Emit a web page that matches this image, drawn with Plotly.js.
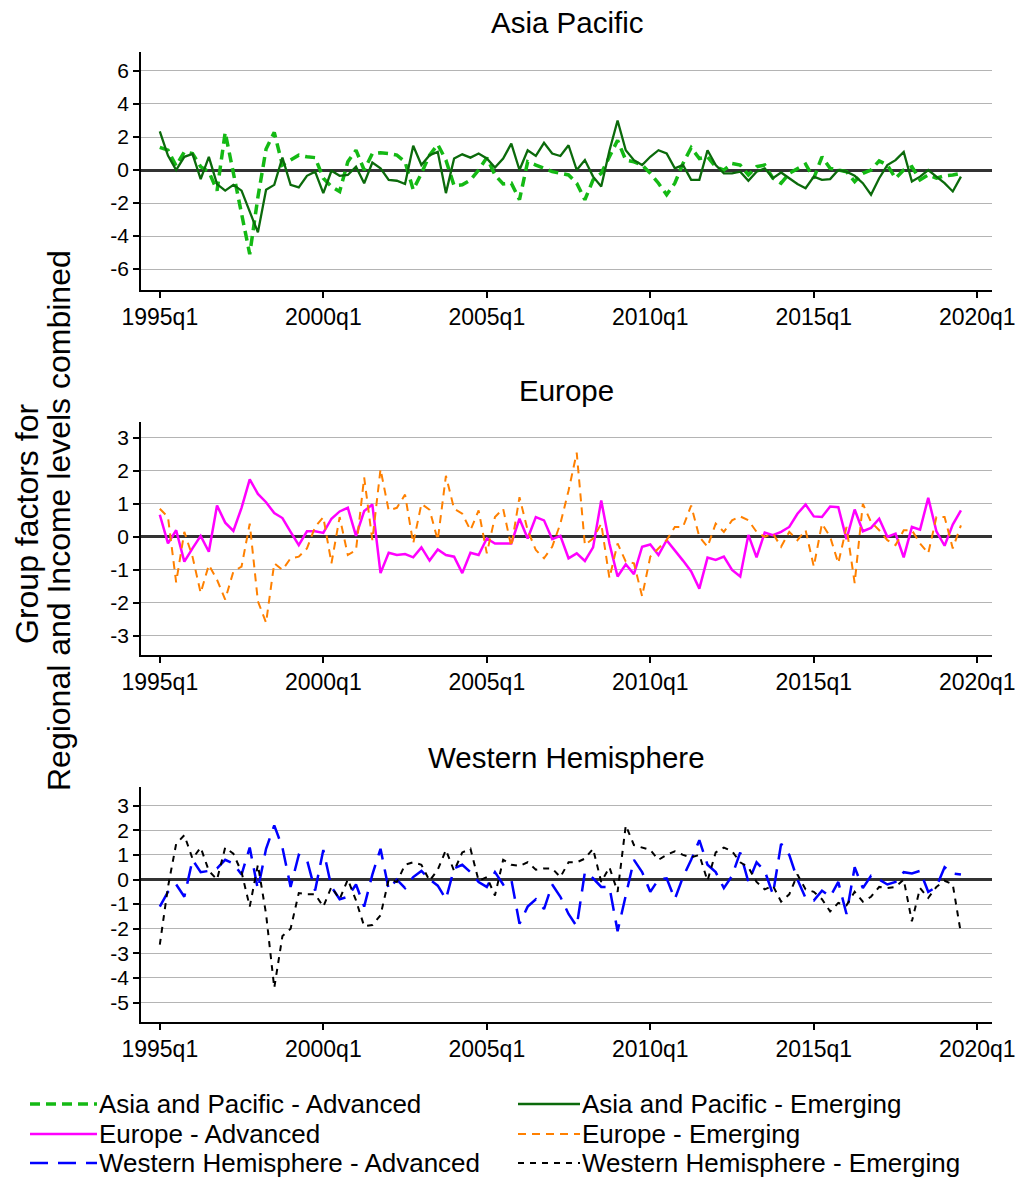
<!DOCTYPE html>
<html>
<head>
<meta charset="utf-8">
<script src="https://cdn.plot.ly/plotly-3.0.1.min.js"></script>
<style>html,body{margin:0;padding:0;background:#fff;}#chart{width:1019px;height:1180px;}</style>
</head>
<body>
<div id="chart"></div>
<script>
// Quarter labels 1995q1 .. 2019q3 (99 quarters)
const quarters = [];
for (let y = 1995; y <= 2019; y++) for (let q = 1; q <= 4; q++) if (quarters.length < 99) quarters.push(y + "q" + q);
const xTickLabels = ["1995q1", "2000q1", "2005q1", "2010q1", "2015q1", "2020q1"];
const xTickIdx = [0, 20, 40, 60, 80, 100];

const seriesNames = [
  "Asia and Pacific - Advanced", "Asia and Pacific - Emerging",
  "Europe - Advanced", "Europe - Emerging",
  "Western Hemisphere - Advanced", "Western Hemisphere - Emerging"
];
const panelTitles = ["Asia Pacific", "Europe", "Western Hemisphere"];

const apAdvanced = [1.37,1.2,0.25,1.1,1.0,0.2,-0.1,-1.25,2.28,-0.15,-2.6,-5.1,-1.65,1.27,2.28,0.3,0.6,0.9,0.8,0.75,
 -0.5,-1.0,-1.3,0.5,1.2,0.0,1.0,1.05,1.0,0.9,0.5,-1.2,-0.2,0.9,1.55,0.6,-0.95,-0.9,-0.6,0.0,
 0.75,-0.3,-0.85,-0.8,-1.8,0.5,0.3,0.1,-0.1,-0.2,-0.3,-0.8,-1.8,-0.6,-0.2,0.8,1.8,0.6,0.5,0.3,
 -0.2,-0.8,-1.5,-0.8,0.4,1.35,0.7,0.8,0.2,0.0,0.4,0.3,-0.3,0.2,0.3,-0.5,-0.8,-0.2,0.1,0.35,
 -0.5,0.8,0.1,0.0,-0.1,-0.7,-0.2,0.0,0.55,0.3,-0.5,0.0,0.2,-0.6,-0.3,-0.5,-0.35,-0.3,-0.2];
const apEmerging = [2.34,0.87,0.0,0.8,0.97,-0.55,0.8,-0.85,-1.25,-0.9,-1.25,-2.46,-3.78,-1.2,-0.9,0.75,-0.9,-1.05,-0.35,-0.1,
 -1.4,-0.05,-0.35,-0.3,0.2,-0.8,0.45,0.1,-0.6,-0.65,-0.85,1.47,0.3,0.9,1.1,-1.4,0.7,0.95,0.75,1.0,
 0.7,0.15,0.7,1.6,0.0,1.2,0.85,1.65,1.0,0.85,1.5,0.0,0.6,-0.4,-1.0,1.17,3.0,1.2,0.6,0.3,
 0.8,1.2,1.0,0.1,0.3,-0.6,-0.6,1.2,0.3,-0.2,-0.2,-0.1,-0.65,-0.1,0.1,-0.5,-0.15,-0.5,-0.85,-1.1,
 -0.4,-0.6,-0.55,0.0,-0.1,-0.35,-0.8,-1.5,-0.5,0.3,0.6,1.1,-0.7,-0.4,0.0,-0.4,-0.8,-1.3,-0.4];
const euAdvanced = [0.67,-0.2,0.2,-0.75,-0.35,0.03,-0.45,0.95,0.43,0.18,0.88,1.74,1.3,1.05,0.72,0.57,0.15,-0.25,0.17,0.17,
 0.12,0.55,0.77,0.88,0.03,0.78,0.98,-1.1,-0.48,-0.55,-0.52,-0.62,-0.32,-0.72,-0.38,-0.55,-0.6,-1.1,-0.48,-0.55,
 -0.05,-0.2,-0.2,-0.2,0.55,-0.05,0.6,0.5,-0.07,0.03,-0.65,-0.5,-0.73,-0.32,1.1,-0.2,-1.2,-0.83,-1.13,-0.3,
 -0.23,-0.55,-0.1,-0.4,-0.72,-1.05,-1.57,-0.63,-0.7,-0.6,-1.0,-1.2,0.06,-0.62,0.13,0.05,0.15,0.3,0.7,0.98,
 0.62,0.6,0.92,0.9,-0.07,0.83,0.17,0.27,0.55,0.0,0.1,-0.62,0.3,0.22,1.18,0.17,-0.27,0.37,0.8];
const euEmerging = [0.85,0.6,-1.38,0.15,-0.6,-1.7,-0.85,-1.3,-1.9,-1.05,-0.9,0.4,-1.95,-2.6,-0.8,-1.0,-0.65,-0.6,-0.35,0.3,
 0.6,-0.8,0.6,-0.55,-0.4,1.8,-0.1,2.05,0.8,0.88,1.28,-0.2,1.0,0.82,-0.1,1.85,0.85,0.7,0.2,0.8,
 -0.5,0.6,0.85,-0.3,1.2,0.2,-0.4,-0.65,-0.3,0.4,1.4,2.55,-0.25,-0.05,0.4,-1.25,-0.2,-0.75,-0.8,-1.8,
 -0.6,-0.35,-0.1,0.3,0.3,0.95,0.0,-0.3,0.4,0.15,0.5,0.62,0.5,0.15,0.0,0.1,-0.3,0.15,-0.1,0.2,
 -0.9,0.4,0.0,-0.8,0.3,-1.4,1.0,0.45,0.2,-0.1,-0.25,0.2,0.2,-0.2,-0.5,0.6,0.6,-0.35,0.35];
const whAdvanced = [-1.1,-0.5,-0.2,-0.7,0.8,0.3,0.35,0.45,0.8,0.65,0.2,1.3,-0.4,1.25,2.2,1.3,-0.3,1.0,0.8,-0.45,
 1.2,-0.3,-0.8,-0.7,-0.2,-1.1,0.2,1.25,-0.4,0.0,-0.35,0.1,0.35,0.0,-0.25,-0.8,0.45,0.6,0.3,-0.1,
 -0.3,0.3,-0.2,0.0,-1.8,-1.1,-0.8,-1.2,-0.2,-0.7,-1.4,-1.9,0.3,0.05,-0.3,-0.3,-2.1,-0.6,0.8,0.3,
 -0.5,0.0,0.05,-0.8,0.1,0.8,1.6,0.6,0.3,-0.35,0.15,1.1,-0.1,0.7,0.35,-0.6,1.45,1.0,0.0,-0.75,
 -0.85,-0.45,-0.7,-0.1,-1.4,0.5,-0.35,0.15,0.0,-0.2,-0.1,0.3,0.25,0.35,-0.5,-0.3,0.5,0.25,0.2];
const whEmerging = [-2.65,-0.3,1.45,1.8,0.85,1.3,0.35,0.0,1.3,1.05,0.3,-1.1,0.6,-1.4,-4.4,-2.3,-2.0,-0.55,-0.6,-0.6,
 -1.1,-0.3,-0.8,0.0,-0.85,-1.9,-1.85,-1.45,0.0,-0.1,0.6,0.7,0.6,-0.05,0.4,1.2,0.35,1.1,1.25,-0.05,
 0.1,-0.65,0.8,0.6,0.55,0.7,0.4,0.45,0.45,0.1,0.7,0.7,0.85,1.25,-0.1,0.5,-0.5,2.2,1.4,1.3,
 1.2,0.8,1.0,1.15,1.0,0.9,1.0,-0.05,1.1,1.3,1.15,0.7,0.5,-0.1,-0.4,-0.25,-0.9,-0.6,0.2,-0.4,
 -0.5,-0.8,-1.3,-0.95,-1.05,-0.5,-0.9,-0.7,-0.3,-0.35,-0.3,0.0,-1.7,-0.35,-0.75,-0.3,-0.05,-0.2,-2.2];

const seriesValues = [apAdvanced, apEmerging, euAdvanced, euEmerging, whAdvanced, whEmerging];

// ---- styles ----
const W = 1019, H = 1180, ML = 141, MR = 27;
const PW = W - ML - MR;
const FONT = "Liberation Sans, Arial, Helvetica, sans-serif";
const styles = [
  {color: "#14b914", width: 3.5, dash: "10px,6px"},
  {color: "#0b6a0b", width: 2.3, dash: "solid"},
  {color: "#ff00ff", width: 2.5, dash: "solid"},
  {color: "#ff8000", width: 2.0, dash: "8px,6px"},
  {color: "#0000ff", width: 2.5, dash: "18px,10px"},
  {color: "#000000", width: 2.0, dash: "6px,6px"}
];
const px2x = p => (p - ML) / PW;
const py2y = p => 1 - p / H;

const idx = quarters.map((q, i) => i);
const traces = seriesValues.map((vals, k) => ({
  type: "scatter", mode: "lines",
  x: idx, y: vals, text: quarters,
  name: seriesNames[k],
  xaxis: ["x", "x2", "x3"][Math.floor(k / 2)],
  yaxis: ["y", "y2", "y3"][Math.floor(k / 2)],
  line: styles[k], showlegend: false,
  hovertemplate: "%{text}: %{y}<extra>" + seriesNames[k] + "</extra>"
}));

// panel geometry in pixels (top, bottom) and y ranges / ticks
const panels = [
  {top: 52, bot: 290, range: [-7.27, 7.15], ticks: [-6, -4, -2, 0, 2, 4, 6], titleY: 22},
  {top: 422, bot: 655, range: [-3.58, 3.48], ticks: [-3, -2, -1, 0, 1, 2, 3], titleY: 390},
  {top: 787, bot: 1022, range: [-5.79, 3.76], ticks: [-5, -4, -3, -2, -1, 0, 1, 2, 3], titleY: 757}
];

const layout = {
  width: W, height: H,
  margin: {l: ML, r: MR, t: 0, b: 0},
  paper_bgcolor: "#ffffff", plot_bgcolor: "#ffffff",
  font: {family: FONT, color: "#000"},
  showlegend: false,
  annotations: [], shapes: []
};

panels.forEach((p, k) => {
  const sx = k === 0 ? "" : String(k + 1);
  layout["xaxis" + sx] = {
    domain: [0, 1], anchor: "y" + sx,
    range: [-2.3, 101.8], tickvals: xTickIdx, ticktext: xTickLabels,
    ticks: "outside", ticklen: 6, tickwidth: 1.5, tickcolor: "#000",
    showline: true, linecolor: "#000", linewidth: 1.5,
    showgrid: false, zeroline: false,
    tickfont: {size: 23, family: FONT, color: "#000"}
  };
  layout["yaxis" + sx] = {
    domain: [py2y(p.bot), py2y(p.top)], anchor: "x" + sx,
    range: p.range, tickvals: p.ticks, ticktext: p.ticks.map(v => String(v)),
    ticks: "outside", ticklen: 6, tickwidth: 1.5, tickcolor: "#000",
    showline: true, linecolor: "#000", linewidth: 1.5,
    showgrid: true, gridcolor: "#b4b4b4", gridwidth: 1,
    zeroline: true, zerolinecolor: "#333333", zerolinewidth: 2.5,
    tickfont: {size: 21, family: FONT, color: "#000"}
  };
  layout.annotations.push({
    text: panelTitles[k], xref: "paper", yref: "paper",
    x: 0.5, y: py2y(p.titleY), xanchor: "center", yanchor: "middle",
    showarrow: false, font: {size: 29.5, family: FONT, color: "#000"}
  });
});

// overall y-axis title (two lines)
layout.annotations.push({
  text: "Group factors for", xref: "paper", yref: "paper",
  x: px2x(27), y: py2y(524), xanchor: "center", yanchor: "middle",
  textangle: -90, showarrow: false, font: {size: 32, family: FONT, color: "#000"}
});
layout.annotations.push({
  text: "Regional and Income levels combined", xref: "paper", yref: "paper",
  x: px2x(59), y: py2y(521), xanchor: "center", yanchor: "middle",
  textangle: -90, showarrow: false, font: {size: 32, family: FONT, color: "#000"}
});

// legend (2 columns x 3 rows)
const legCols = [{x0: 30, x1: 97, tx: 98}, {x0: 518, x1: 580, tx: 581}];
const legRows = [1104, 1134, 1163];
seriesNames.forEach((nm, k) => {
  const c = legCols[k % 2], r = legRows[Math.floor(k / 2)];
  layout.shapes.push({
    type: "line", xref: "paper", yref: "paper",
    x0: px2x(c.x0), x1: px2x(c.x1), y0: py2y(r), y1: py2y(r),
    line: {color: styles[k].color, width: styles[k].width, dash: styles[k].dash}
  });
  layout.annotations.push({
    text: nm, xref: "paper", yref: "paper",
    x: px2x(c.tx), y: py2y(r), xanchor: "left", yanchor: "middle",
    showarrow: false, borderpad: 0, font: {size: 26, family: FONT, color: "#000"}
  });
});

Plotly.newPlot("chart", traces, layout, {displayModeBar: false, responsive: false});
</script>
</body>
</html>
